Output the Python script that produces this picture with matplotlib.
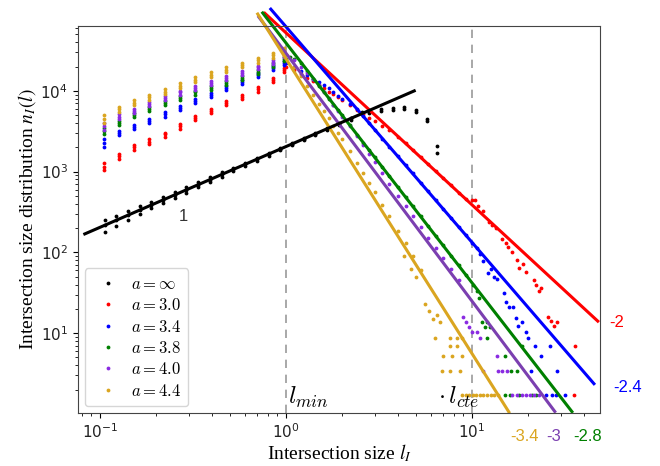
import numpy as np
import matplotlib
matplotlib.use("Agg")
import matplotlib.pyplot as plt
from matplotlib.font_manager import FontProperties

# ---- rising part: clusters of points at shared sizes (l < 1)
rise_x = [0.105, 0.126, 0.152, 0.183, 0.223, 0.269, 0.324, 0.395, 0.475, 0.579, 0.706, 0.851, 0.975]

red_rise = [[1050, 1150, 1290], [1450, 1550, 1650], [1850, 2000, 2150], [2200, 2350, 2500],
            [2700, 2900, 3050], [3400, 3650, 3850], [4300, 4550, 4850], [5250, 5600, 5950],
            [6650, 7100, 7500], [8000, 8500, 9000], [9800, 10500, 11100], [13000, 13800, 14600],
            [17000, 18200, 19300]]
blue_rise = [[2000, 2250, 2500], [2850, 3000, 3200], [3350, 3550, 3750], [4000, 4250, 4500],
             [4800, 5100, 5450], [5800, 6150, 6550], [7000, 7400, 7850], [8400, 8900, 9400],
             [10300, 11000, 11600], [12100, 12900, 13600], [14900, 15800, 16800],
             [18000, 19000, 20200], [21000, 22400, 23700]]
green_rise = [[2900, 3200, 3450], [3750, 4000, 4200], [4700, 5000, 5300], [5700, 6000, 6400],
              [6700, 7100, 7500], [7650, 8100, 8600], [9000, 9550, 10100], [10300, 11000, 11600],
              [11900, 12600, 13300], [13600, 14500, 15300], [16000, 17000, 18000],
              [19700, 20900, 22100], [23700, 25100, 26600]]
purple_rise = [[3300, 3650, 4000], [4500, 4800, 5100], [5300, 5600, 5950], [6500, 6900, 7350],
               [7650, 8100, 8600], [9000, 9550, 10100], [10300, 11000, 11600], [11900, 12600, 13300],
               [13600, 14500, 15300], [15700, 16600, 17600], [18400, 19500, 20600],
               [21600, 22900, 24300], [26600, 28200, 29900]]
orange_rise = [[4000, 4500, 5000], [5500, 5900, 6400], [6600, 7100, 7700], [7800, 8300, 9000],
               [9100, 9800, 10600], [10700, 11500, 12400], [12900, 13800, 14900], [14800, 15800, 17000],
               [17000, 18200, 19500], [19500, 20900, 22400], [22400, 24000, 25700],
               [25700, 27500, 29500], [29500, 31600, 33800]]

# ---- falling part (l > 1)
red_fall_x = [1.0, 1.1, 1.2, 1.3, 1.4, 1.5, 1.6, 1.7, 1.8, 1.9, 2.0, 2.2, 2.4, 2.6, 2.8, 3.0, 3.3, 3.6,
              4.0, 4.4, 4.8, 5.3, 5.8, 6.4, 7.0, 7.7, 8.5, 9.3,
              10.0, 10.4, 10.8, 11.5, 12.4, 12.8, 13.5, 14.6, 15.2, 15.6, 16.5, 17.4, 18.0, 18.8,
              19.6, 21.5, 22.2, 23.0, 23.5, 25.6, 26.5, 27.5, 28.8, 36.0, 35.3]
red_fall_y = [19950, 18200, 16200, 14450, 13200, 11750, 10700, 9770, 9120, 8320, 7760, 6610, 5750,
              5130, 4680, 4270, 3720, 3240, 2690, 2240, 1860, 1510, 1260, 1020, 830, 676, 550, 457,
              440, 450, 380, 330, 240, 220, 200, 145, 130, 115, 100, 80, 65, 72,
              57, 46, 40, 33, 36, 16, 14, 12.2, 13.8, 6.9, 1.72]

blue_fall_x = [1.0, 1.1, 1.2, 1.3, 1.4, 1.5, 1.6, 1.7, 1.8, 1.9, 2.0, 2.2, 2.4, 2.6, 2.8, 3.0, 3.3,
               3.6, 4.0, 4.4, 4.8, 5.3, 5.8, 6.4, 7.0, 7.7, 8.5, 9.3, 10.0, 10.7,
               11.0, 11.5, 12.2, 12.6, 13.2, 13.6, 14.8, 15.3, 15.8, 16.6, 17.2, 17.8, 18.5, 19.5,
               20.0, 20.9, 21.9, 23.5, 26.3, 28.8, 25.0, 27.0, 28.5, 31.5]
blue_fall_y = [22400, 19950, 17800, 15850, 14130, 12880, 11750, 10720, 9770, 8710, 7940, 6920, 5890,
               4900, 3980, 3310, 2570, 2040, 1550, 1200, 955, 724, 575, 447, 347, 269, 209, 162,
               132, 112,
               95, 78, 56, 62, 50, 47, 31, 24, 21, 21, 15.5, 12.3, 13.8, 10.3,
               8.6, 3.44, 6.9, 5.2, 6.9, 3.44, 1.72, 1.72, 1.72, 1.72]

green_fall_x = [1.0, 1.05, 1.1, 1.2, 1.3, 1.4, 1.5, 1.6, 1.7, 1.8, 1.9, 2.0, 2.2, 2.4, 2.6, 2.8, 3.0,
                3.3, 3.6, 4.0, 4.4, 4.8, 5.3, 5.8, 6.4, 7.0, 7.7, 8.5, 9.3,
                10.2, 10.6, 10.9, 11.3, 11.7, 12.1, 12.5, 12.0, 15.1, 16.2, 17.4, 18.6,
                15.0, 16.0, 18.0, 21.0, 22.0]
green_fall_y = [25100, 26300, 24500, 21900, 17400, 14100, 11500, 9550, 7940, 6760, 5750, 5010, 3800,
                2880, 2290, 1860, 1510, 1150, 871, 646, 490, 372, 282, 214, 158, 123, 91, 69, 52,
                40, 33, 27, 13.8, 12.0, 13.8, 12.0, 8.6, 5.2, 3.44, 3.44, 6.9,
                1.72, 1.72, 1.72, 1.72, 1.72]

purple_fall_x = [1.0, 1.1, 1.2, 1.3, 1.4, 1.5, 1.6, 1.7, 1.8, 1.9, 2.0, 2.2, 2.4, 2.6, 2.8, 3.0, 3.3,
                 3.6, 4.0, 4.4, 4.8, 5.3, 5.8, 6.4, 7.0, 7.7, 8.5,
                 9.0, 9.3, 9.6, 10.0, 10.7, 11.0, 13.6, 11.5, 13.8, 14.5, 15.5,
                 16.5, 17.5, 18.5, 19.5, 20.5, 21.5, 23.0]
purple_fall_y = [28200, 24000, 19950, 16600, 14100, 11750, 9770, 8130, 6760, 5620, 4790, 3630, 2750,
                 2140, 1660, 1320, 955, 708, 501, 372, 282, 204, 151, 112, 85, 63, 46,
                 16, 13.8, 12, 10.3, 10.3, 8.6, 5.2, 3.44, 3.44, 3.44, 3.44,
                 1.72, 1.72, 1.72, 1.72, 1.72, 1.72, 1.72]

orange_fall_x = [1.0, 1.1, 1.2, 1.3, 1.4, 1.5, 1.6, 1.7, 1.8, 1.9, 2.0, 2.2, 2.4, 2.6, 2.8, 3.0, 3.3,
                 3.6, 4.0, 4.4, 4.8, 5.3,
                 4.3, 4.7, 5.0, 5.6, 5.9, 6.2, 6.5, 6.7, 6.3, 7.6, 8.3, 8.9, 7.6, 8.3, 7.0, 7.8,
                 8.8, 6.9, 7.6, 8.6,
                 8.9, 9.3, 9.7, 10.1, 10.5, 11.0, 11.5, 12.0, 12.6, 13.2, 13.8]
orange_fall_y = [28200, 19950, 15100, 11500, 8910, 6920, 5620, 4570, 3720, 3020, 2510, 1780, 1290,
                 955, 724, 562, 389, 282, 186, 132, 91, 60,
                 89, 62, 50, 23, 19, 15, 17, 13.8, 8.6, 8.6, 8.6, 8.6, 6.9, 6.9, 5.2, 5.2,
                 5.2, 3.44, 3.44, 3.44,
                 1.72, 1.72, 1.72, 1.72, 1.72, 1.72, 1.72, 1.72, 1.72, 1.72, 1.72]

# ---- a = infinity
black_x = [0.106, 0.122, 0.142, 0.164, 0.189, 0.219, 0.253, 0.292, 0.338, 0.391, 0.452, 0.522,
           0.604, 0.698, 0.807, 0.933, 1.08, 1.25, 1.44, 1.67, 1.93, 2.23, 2.58,
           2.79, 3.24, 3.76, 4.31, 5.0, 5.73, 6.49]
black_y = [[180, 216, 255], [215, 249, 285], [255, 290, 330], [300, 335, 375], [350, 386, 425],
           [405, 447, 490], [470, 516, 560], [550, 596, 645], [640, 690, 740], [745, 798, 850],
           [865, 922, 980], [1005, 1065, 1125], [1170, 1232, 1290], [1360, 1424, 1490],
           [1580, 1646, 1710], [1830, 1903, 1980], [2120, 2203, 2290], [2460, 2550, 2640],
           [2840, 2938, 3040], [3300, 3407, 3510], [3820, 3937, 4050], [4420, 4550, 4680],
           [5130, 5263, 5400],
           [5250, 5450], [5700, 5950], [5850, 6150], [6000, 6300], [5500, 5800], [4250, 4500],
           [1700, 2050]]

# fitted power laws: amplitude, exponent, l range
fit_amp = [52500, 62500, 39400, 29400, 25100]
fit_exp = [-2.13, -2.67, -2.97, -3.07, -3.65]
fit_lo = [0.771, 0.83, 0.751, 0.716, 0.706]
fit_hi = [47.5, 45.3, 34.5, 27.9, 15.8]
fit_text = ['-2', '-2.4', '-2.8', '-3', '-3.4']
text_pos = [(60, 13.7), (69, 2.15), (42, 0.52), (27.6, 0.52), (19.3, 0.52)]

labels = [r'$a=\infty$', r'$a=3.0$', r'$a=3.4$', r'$a=3.8$', r'$a=4.0$', r'$a=4.4$']
dot_colors = ['red', 'blue', 'green', 'blueviolet', 'goldenrod']
line_colors = ['red', 'blue', 'green', '#7b3fb0', 'goldenrod']


def flat(xs, groups):
    px, py = [], []
    for x, ys in zip(xs, groups):
        for y in ys:
            px.append(x)
            py.append(y)
    return px, py


fig = plt.figure(figsize=(6.6, 4.66), dpi=100)
ax = fig.add_axes([0.118, 0.114, 0.791, 0.830])
ax.set_xscale('log')
ax.set_yscale('log')

ms = 5.5
bx, by = flat(black_x, black_y)
ax.plot(bx, by, '.', color='k', ms=ms, mew=0, label=labels[0])

rises = [red_rise, blue_rise, green_rise, purple_rise, orange_rise]
falls = [(red_fall_x, red_fall_y), (blue_fall_x, blue_fall_y), (green_fall_x, green_fall_y),
         (purple_fall_x, purple_fall_y), (orange_fall_x, orange_fall_y)]
for i in range(5):
    rx, ry = flat(rise_x, rises[i])
    fx, fy = falls[i]
    ax.plot(rx + fx, ry + fy, '.', color=dot_colors[i], ms=ms, mew=0, label=labels[i + 1])

for i in range(5):
    l = np.array([fit_lo[i], fit_hi[i]])
    ax.plot(l, fit_amp[i] * l ** fit_exp[i], '-', color=line_colors[i], lw=2.2, clip_on=False)
    ax.text(text_pos[i][0], text_pos[i][1], fit_text[i], color=line_colors[i], fontsize=12,
            family='Liberation Sans', ha='center', va='center')

l = np.array([0.083, 4.9])
ax.plot(l, 2040 * l, '-', color='k', lw=2.2)
ax.text(0.28, 280, '1', color='#333333', fontsize=12, family='Liberation Sans',
        ha='center', va='center')

for xv in [1, 10]:
    ax.axvline(xv, color='#999999', lw=1.2, ls=(0, (5, 4)), zorder=0)

ax.text(1.03, 1.12, r'$l_{min}$', fontsize=18, math_fontfamily='cm', ha='left', va='bottom')
ax.text(6.6, 1.12, r'$\cdot\, l_{cte}$', fontsize=18, math_fontfamily='cm', ha='left', va='bottom')

ax.set_xlim(0.0762, 48.8)
ax.set_ylim(1.03, 63400)

ax.set_xlabel(r'Intersection size $l_I$', family='Liberation Serif', fontsize=14,
              math_fontfamily='stix', labelpad=1)
ax.set_ylabel(r'Intersection size distribution $n_I(l)$', family='Liberation Serif',
              fontsize=14, math_fontfamily='stix', labelpad=2)
ax.tick_params(labelsize=11, labelcolor='#222222')
for s in ax.spines.values():
    s.set_color('#444444')

leg = ax.legend(loc='lower left', prop=FontProperties(size=12, math_fontfamily='cm'),
                handletextpad=0.4, borderaxespad=0.4, labelspacing=0.2)

fig.savefig('out.png', dpi=100)
